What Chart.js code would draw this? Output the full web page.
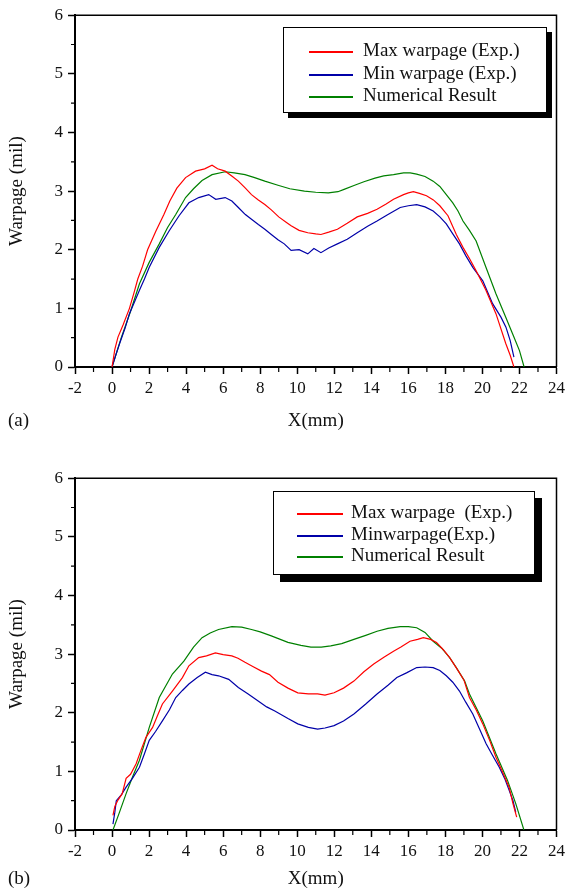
<!DOCTYPE html>
<html>
<head>
<meta charset="utf-8">
<script src="https://cdn.jsdelivr.net/npm/chart.js@4.4.0/dist/chart.umd.min.js"></script>
<style>
  body { margin: 0; background: #fff; }
  #wrap { position: relative; width: 569px; height: 889px; overflow: hidden;
          font-family: "Liberation Serif", "Times New Roman", serif; color: #111; }
  canvas { position: absolute; left: 0; }
  .legend { position: absolute; background: #fff; border: 1px solid #000;
            box-shadow: 6px 6px 0 #000; font-size: 19px; }
  .legend .row { position: absolute; white-space: pre; line-height: 22px; }
  .legend .swatch { position: absolute; height: 2px; }
  .panel { position: absolute; font-size: 19px; line-height: 22px; }
</style>
</head>
<body>
<div id="wrap">
  <canvas id="chartA" width="569" height="444" style="top:0"></canvas>
  <canvas id="chartB" width="569" height="444" style="top:463px"></canvas>
  <div class="panel" style="left:8px; top:409px">(a)</div>
  <div class="panel" style="left:8px; top:867px">(b)</div>
</div>
<script>
// warpage profiles across the part, x in mm, warpage in mil
// (a)
const maxAX = [0, 0.15, 0.32, 0.6, 0.94, 1.2, 1.39, 1.65, 1.92, 2.37, 2.8, 3.12, 3.5, 3.97, 4.51, 5.0, 5.4, 5.7, 6.11, 6.5, 6.82, 7.2, 7.53, 7.9, 8.25, 8.6, 9.0, 9.4, 9.67, 10.1, 10.57, 11.0, 11.28, 11.7, 12.17, 12.7, 13.24, 13.8, 14.31, 14.8, 15.2, 15.74, 16.0, 16.27, 16.6, 16.98, 17.35, 17.7, 18.14, 18.59, 18.95, 19.3, 19.66, 20.19, 20.73, 21.26, 21.5, 21.7];
const maxAY = [0, 0.3, 0.51, 0.72, 1.0, 1.28, 1.5, 1.72, 2.0, 2.32, 2.6, 2.83, 3.05, 3.23, 3.34, 3.38, 3.44, 3.38, 3.34, 3.25, 3.17, 3.05, 2.94, 2.85, 2.77, 2.68, 2.56, 2.47, 2.41, 2.33, 2.29, 2.27, 2.26, 2.3, 2.35, 2.45, 2.56, 2.62, 2.69, 2.78, 2.86, 2.94, 2.97, 2.99, 2.96, 2.92, 2.85, 2.75, 2.58, 2.26, 2.04, 1.85, 1.64, 1.31, 0.91, 0.4, 0.2, 0];
const minAX = [0, 0.2, 0.41, 0.7, 0.94, 1.2, 1.48, 1.75, 2.01, 2.55, 3.08, 3.62, 4.15, 4.68, 5.22, 5.6, 6.11, 6.47, 6.82, 7.2, 7.53, 7.9, 8.25, 8.6, 8.96, 9.3, 9.67, 10.1, 10.57, 10.9, 11.28, 11.7, 12.17, 12.7, 13.24, 13.8, 14.31, 14.9, 15.56, 16.0, 16.45, 16.9, 17.34, 17.7, 18.05, 18.4, 18.76, 19.1, 19.48, 20.02, 20.55, 21.0, 21.27, 21.5, 21.7];
const minAY = [0, 0.2, 0.4, 0.66, 0.91, 1.1, 1.31, 1.5, 1.7, 2.04, 2.32, 2.58, 2.8, 2.89, 2.94, 2.86, 2.89, 2.83, 2.72, 2.6, 2.52, 2.43, 2.35, 2.26, 2.17, 2.1, 1.99, 2.0, 1.93, 2.02, 1.95, 2.03, 2.1, 2.18, 2.29, 2.4, 2.49, 2.6, 2.72, 2.75, 2.77, 2.73, 2.66, 2.56, 2.44, 2.27, 2.1, 1.9, 1.7, 1.47, 1.08, 0.85, 0.68, 0.45, 0.17];
const numAX = [0, 0.5, 1.0, 1.48, 2.0, 2.55, 3.0, 3.44, 3.97, 4.4, 4.86, 5.4, 6.11, 6.6, 7.18, 7.7, 8.25, 8.96, 9.6, 10.39, 11.0, 11.68, 12.2, 12.53, 13.1, 13.6, 14.2, 14.67, 15.2, 15.74, 16.1, 16.45, 16.9, 17.34, 17.7, 18.05, 18.4, 18.68, 18.95, 19.3, 19.66, 20.19, 20.73, 21.26, 21.7, 22.0, 22.25];
const numAY = [0, 0.5, 0.95, 1.42, 1.78, 2.1, 2.38, 2.6, 2.89, 3.04, 3.18, 3.28, 3.33, 3.31, 3.28, 3.23, 3.17, 3.1, 3.04, 3.0, 2.98, 2.97, 2.99, 3.03, 3.1, 3.16, 3.22, 3.26, 3.28, 3.31, 3.31, 3.29, 3.25, 3.17, 3.08, 2.94, 2.8, 2.66, 2.49, 2.33, 2.15, 1.7, 1.25, 0.85, 0.51, 0.28, 0];
// (b)
const maxBX = [0.05, 0.15, 0.32, 0.55, 0.76, 1.0, 1.3, 1.55, 1.83, 2.19, 2.45, 2.72, 3.26, 3.8, 4.15, 4.68, 5.1, 5.58, 6.0, 6.47, 6.8, 7.18, 7.6, 8.07, 8.5, 8.96, 9.5, 10.03, 10.6, 11.1, 11.5, 11.99, 12.5, 13.06, 13.6, 14.13, 14.7, 15.2, 15.6, 16.09, 16.5, 16.81, 17.2, 17.52, 17.9, 18.23, 18.6, 19.0, 19.3, 19.66, 20.02, 20.4, 20.73, 21.1, 21.44, 21.65, 21.85];
const maxBY = [0.25, 0.4, 0.51, 0.62, 0.88, 0.95, 1.13, 1.35, 1.58, 1.75, 1.95, 2.15, 2.37, 2.6, 2.8, 2.94, 2.97, 3.02, 2.99, 2.97, 2.93, 2.86, 2.79, 2.71, 2.65, 2.52, 2.42, 2.34, 2.32, 2.32, 2.3, 2.34, 2.42, 2.54, 2.7, 2.83, 2.95, 3.05, 3.12, 3.22, 3.25, 3.28, 3.25, 3.2, 3.07, 2.94, 2.76, 2.56, 2.26, 2.05, 1.81, 1.52, 1.24, 0.98, 0.73, 0.45, 0.22];
const minBX = [0.05, 0.15, 0.23, 0.5, 0.76, 1.1, 1.48, 1.75, 2.01, 2.35, 2.72, 3.1, 3.44, 3.8, 4.15, 4.6, 5.04, 5.4, 5.75, 6.3, 6.82, 7.35, 7.89, 8.35, 8.79, 9.5, 10.03, 10.6, 11.1, 11.5, 11.99, 12.5, 13.06, 13.7, 14.31, 14.9, 15.38, 15.9, 16.45, 16.9, 17.34, 17.7, 18.05, 18.4, 18.76, 19.1, 19.48, 19.85, 20.2, 20.55, 20.91, 21.2, 21.44, 21.65, 21.8];
const minBY = [0.1, 0.3, 0.5, 0.6, 0.73, 0.88, 1.07, 1.3, 1.53, 1.68, 1.86, 2.05, 2.26, 2.38, 2.49, 2.6, 2.69, 2.65, 2.63, 2.57, 2.43, 2.32, 2.2, 2.1, 2.03, 1.9, 1.81, 1.75, 1.72, 1.74, 1.78, 1.86, 1.98, 2.15, 2.32, 2.47, 2.6, 2.68, 2.77, 2.78, 2.77, 2.72, 2.63, 2.52, 2.37, 2.18, 1.98, 1.72, 1.47, 1.27, 1.07, 0.88, 0.68, 0.5, 0.3];
const numBX = [0.05, 0.4, 0.76, 1.1, 1.48, 2.01, 2.55, 3.26, 3.88, 4.4, 4.86, 5.3, 5.75, 6.47, 7.0, 7.53, 8.0, 8.6, 9.5, 10.2, 10.74, 11.3, 11.81, 12.4, 13.06, 13.7, 14.31, 14.9, 15.56, 16.0, 16.45, 16.9, 17.34, 17.8, 18.23, 18.59, 19.04, 19.3, 20.02, 20.73, 21.35, 21.8, 22.24];
const numBY = [0, 0.3, 0.62, 0.9, 1.19, 1.75, 2.26, 2.66, 2.88, 3.12, 3.28, 3.36, 3.42, 3.47, 3.46, 3.42, 3.38, 3.31, 3.2, 3.15, 3.12, 3.12, 3.14, 3.18, 3.25, 3.32, 3.39, 3.44, 3.47, 3.47, 3.45, 3.37, 3.22, 3.1, 2.94, 2.77, 2.54, 2.32, 1.86, 1.3, 0.85, 0.45, 0];

const labelsA = ["Max warpage (Exp.)", "Min warpage (Exp.)", "Numerical Result"];
const labelsB = ["Max warpage  (Exp.)", "Minwarpage(Exp.)", "Numerical Result"];
const lineColors = ["#ff0000", "#0000a8", "#008000"];
const xRange = [-2, 24];
const yRange = [0, 6];

function pts(xs, ys) {
  return xs.map((x, i) => ({ x: x, y: ys[i] }));
}

// top/right frame + short minor ticks
const frameTicks = {
  id: 'frameTicks',
  afterDraw(chart) {
    const { ctx, chartArea: a, scales: { x, y } } = chart;
    ctx.save();
    ctx.strokeStyle = '#000';
    ctx.lineWidth = 1.5;
    ctx.beginPath();
    ctx.moveTo(a.left, a.top);
    ctx.lineTo(a.right, a.top);
    ctx.lineTo(a.right, a.bottom);
    ctx.stroke();
    ctx.lineWidth = 1.2;
    ctx.beginPath();
    for (let v = xRange[0] + 1; v < xRange[1]; v += 2) {
      const px = x.getPixelForValue(v);
      ctx.moveTo(px, a.bottom);
      ctx.lineTo(px, a.bottom + 5);
    }
    for (let v = 0.5; v < yRange[1]; v += 1) {
      const py = y.getPixelForValue(v);
      ctx.moveTo(a.left - 4, py);
      ctx.lineTo(a.left, py);
    }
    ctx.stroke();
    ctx.restore();
  }
};

function makeChart(id, series, labels, titlePad) {
  const ctx = document.getElementById(id).getContext('2d');
  const serif = '"Liberation Serif", "Times New Roman", serif';
  const tickFont = { family: serif, size: 17 };
  const titleFont = { family: serif, size: 19, lineHeight: 1 };
  return new Chart(ctx, {
    type: 'line',
    data: {
      datasets: series.map((s, i) => ({
        label: labels[i],
        data: s,
        borderColor: lineColors[i],
        borderWidth: 1.2,
        pointRadius: 0,
        tension: 0,
        fill: false
      }))
    },
    options: {
      responsive: false,
      animation: false,
      devicePixelRatio: 1,
      layout: { padding: { top: 13, right: 8, left: 0, bottom: 0 } },
      plugins: { legend: { display: false }, tooltip: { enabled: false } },
      scales: {
        x: {
          type: 'linear',
          min: xRange[0], max: xRange[1],
          afterFit: (s) => { s.height = 77; },
          ticks: { stepSize: 2, color: '#111', font: tickFont, padding: 4, maxRotation: 0 },
          grid: { drawOnChartArea: false, color: '#000', tickColor: '#000', tickLength: 7, tickWidth: 1.5 },
          border: { color: '#000', width: 2 },
          title: { display: true, text: 'X(mm)', color: '#111', font: titleFont, padding: { top: 0, bottom: titlePad } }
        },
        y: {
          min: yRange[0], max: yRange[1],
          afterFit: (s) => { s.width = 75; },
          ticks: { stepSize: 1, color: '#111', font: tickFont, padding: 5 },
          grid: { drawOnChartArea: false, color: '#000', tickColor: '#000', tickLength: 7, tickWidth: 1.5 },
          border: { color: '#000', width: 2 },
          title: { display: true, text: 'Warpage (mil)', color: '#111', font: titleFont, padding: { top: 8, bottom: 0 } }
        }
      }
    },
    plugins: [frameTicks]
  });
}

// legend box with drop shadow, drawn as html
function makeLegend(labels, box, rowTop, rowGap, swL, swW, textL, shadow) {
  const div = document.createElement('div');
  div.className = 'legend';
  div.style.left = box[0] + 'px';
  div.style.top = box[1] + 'px';
  div.style.width = box[2] + 'px';
  div.style.height = box[3] + 'px';
  div.style.boxShadow = shadow + 'px ' + shadow + 'px 0 #000';
  labels.forEach((lab, i) => {
    const cy = Math.round(rowTop + i * rowGap);
    const sw = document.createElement('div');
    sw.className = 'swatch';
    sw.style.left = swL + 'px';
    sw.style.width = swW + 'px';
    sw.style.top = cy + 'px';
    sw.style.background = lineColors[i];
    div.appendChild(sw);
    const t = document.createElement('div');
    t.className = 'row';
    t.style.left = textL + 'px';
    t.style.top = (cy - 12) + 'px';
    t.textContent = lab;
    div.appendChild(t);
  });
  document.getElementById('wrap').appendChild(div);
}

makeChart('chartA', [pts(maxAX, maxAY), pts(minAX, minAY), pts(numAX, numAY)], labelsA, 13.5);
makeChart('chartB', [pts(maxBX, maxBY), pts(minBX, minBY), pts(numBX, numBY)], labelsB, 18.5);
makeLegend(labelsA, [283, 27, 262, 84], 23, 22.5, 25, 44, 79, 5);
makeLegend(labelsB, [273, 491, 260, 82], 21, 21.5, 23, 46, 77, 7);
</script>
</body>
</html>
